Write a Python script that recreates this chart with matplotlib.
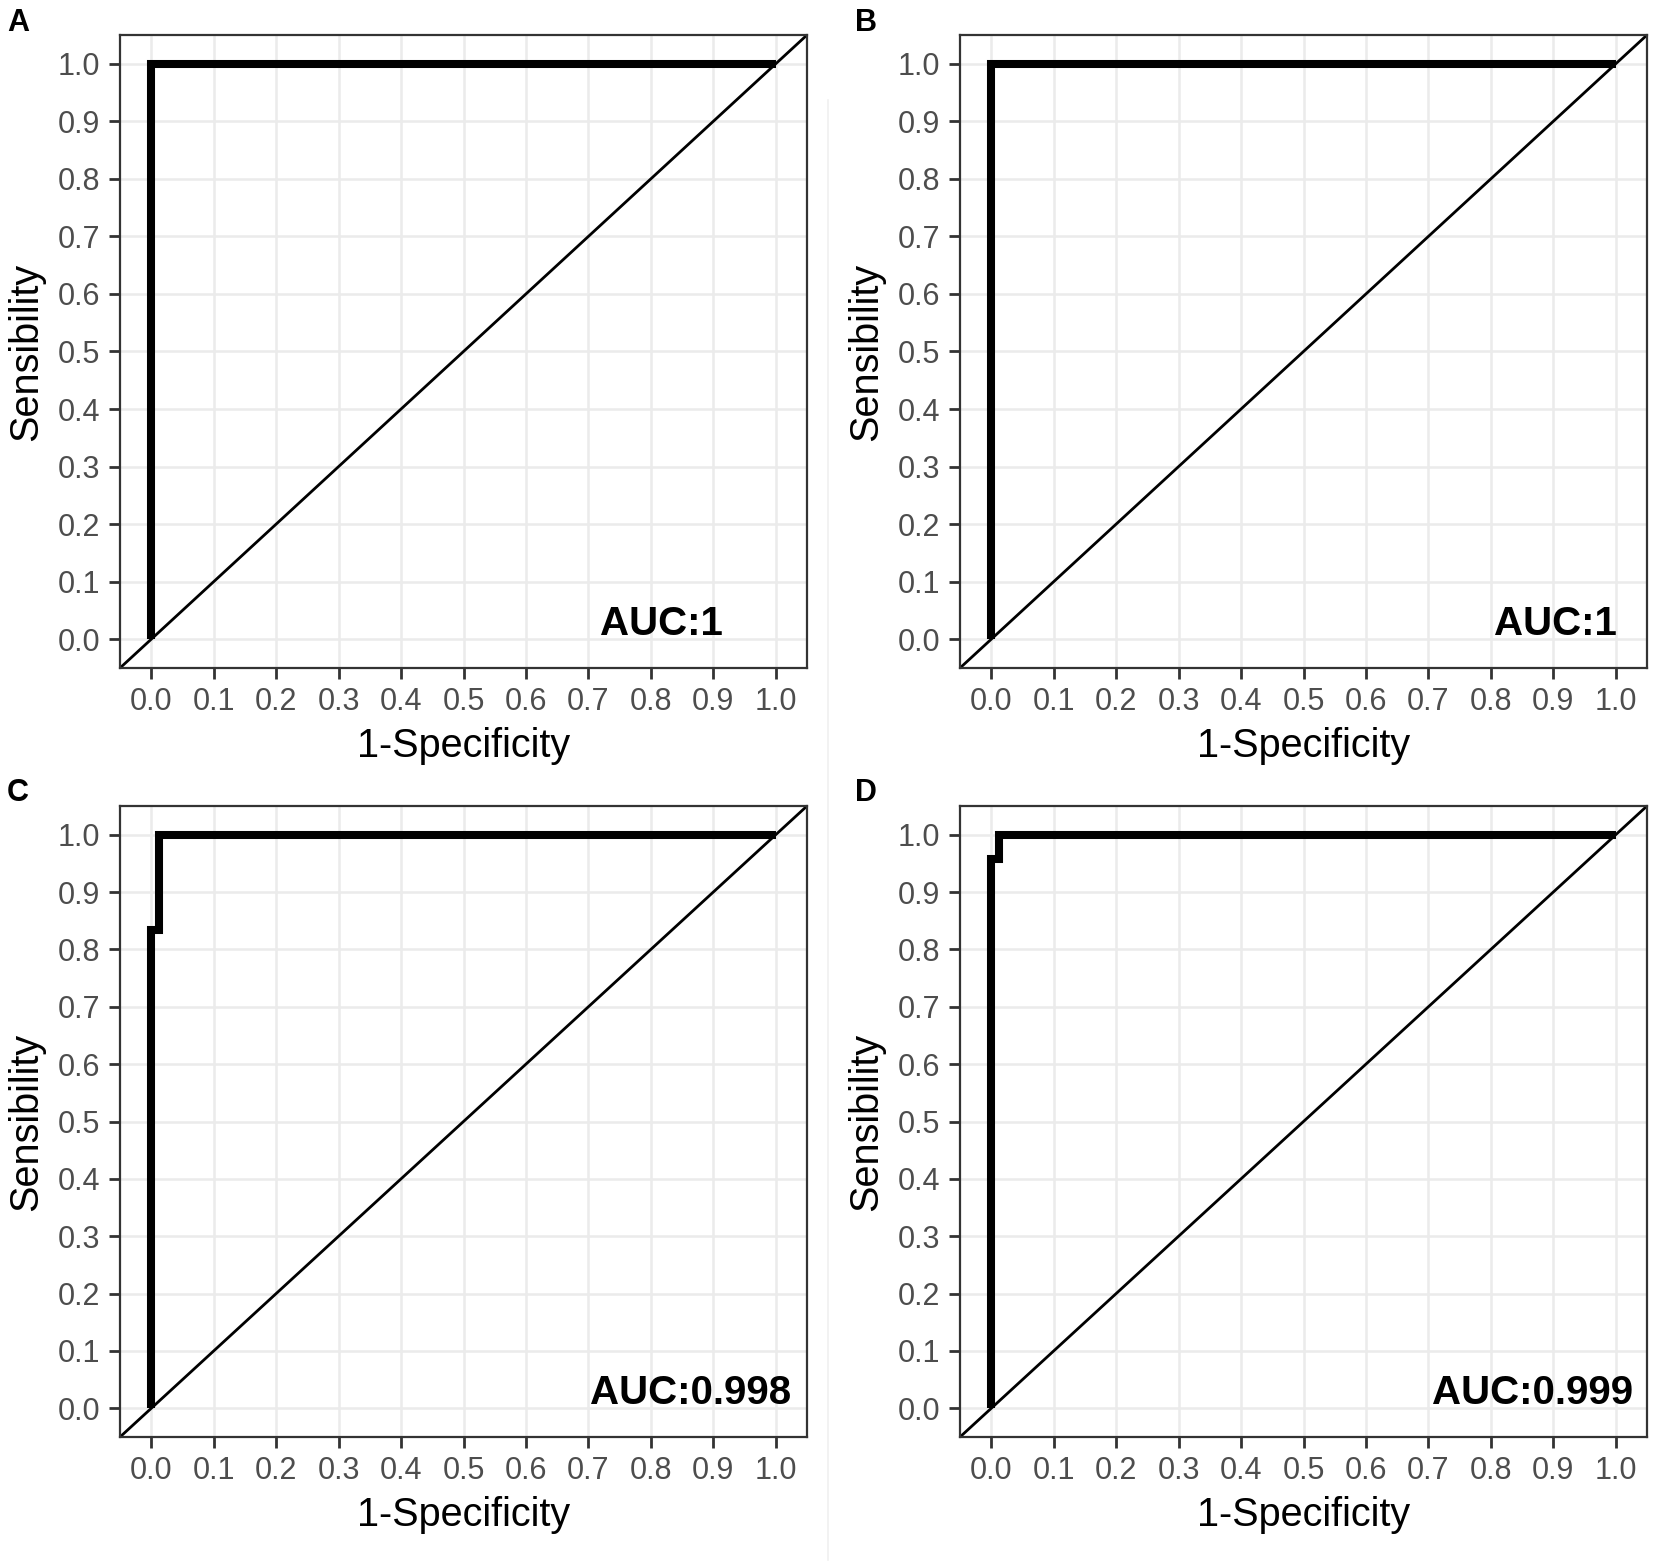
import numpy as np
import matplotlib
matplotlib.use("Agg")
import matplotlib.pyplot as plt
from matplotlib.lines import Line2D

plt.rcParams['font.family'] = ['Liberation Sans', 'DejaVu Sans']

# ROC curves
panels = ['A', 'B', 'C', 'D']
fpr = {
    'A': [0.0, 0.0, 1.0],
    'B': [0.0, 0.0, 1.0],
    'C': [0.0, 0.0, 0.013, 0.013, 1.0],
    'D': [0.0, 0.0, 0.013, 0.013, 1.0],
}
tpr = {
    'A': [0.0, 1.0, 1.0],
    'B': [0.0, 1.0, 1.0],
    'C': [0.0, 0.833, 0.833, 1.0, 1.0],
    'D': [0.0, 0.958, 0.958, 1.0, 1.0],
}
auc_text = {'A': 'AUC:1', 'B': 'AUC:1', 'C': 'AUC:0.998', 'D': 'AUC:0.999'}
auc_x = {'A': 0.817, 'B': 0.904, 'C': 0.864, 'D': 0.867}
ticks = np.round(np.arange(0, 1.01, 0.1), 1)
tick_labels = ['%.1f' % t for t in ticks]

W, H = 1655, 1568
fig = plt.figure(figsize=(W / 100, H / 100), dpi=100)

# panel boxes in pixels: left, top, right, bottom
boxes = {
    'A': (120, 35, 807, 668),
    'B': (960, 35, 1647, 668),
    'C': (120, 806, 807, 1437),
    'D': (960, 806, 1647, 1437),
}
letter_pos = {'A': (7, 8), 'B': (855, 8), 'C': (7, 778), 'D': (855, 778)}

for p in panels:
    l, t, r, b = boxes[p]
    ax = fig.add_axes([l / W, 1 - b / H, (r - l) / W, (b - t) / H])
    ax.set_xlim(-0.05, 1.05)
    ax.set_ylim(-0.05, 1.05)
    ax.set_xticks(ticks)
    ax.set_yticks(ticks)
    ax.set_xticklabels(tick_labels)
    ax.set_yticklabels(tick_labels)
    ax.grid(True, color='#EBEBEB', lw=1.8, zorder=0)
    ax.set_axisbelow(True)
    ax.tick_params(length=8, width=2, color='#333333', labelcolor='#4D4D4D',
                   labelsize=22, pad=6)
    for s in ax.spines.values():
        s.set_color('#333333')
        s.set_linewidth(1.6)

    ax.axline((0, 0), (1, 1), color='black', lw=2.0, zorder=2)
    ax.plot(fpr[p], tpr[p], color='black', lw=5.8, zorder=3,
            solid_joinstyle='miter', solid_capstyle='butt')

    ax.text(auc_x[p], 0.007, auc_text[p], ha='center', va='baseline',
            fontsize=29, fontweight='bold', color='black')

    ax.set_xlabel('1-Specificity', fontsize=28.5, color='black', labelpad=7)
    ax.set_ylabel('Sensibility', fontsize=28.5, color='black', labelpad=9)

    lx, ly = letter_pos[p]
    fig.text(lx / W, 1 - ly / H, p, ha='left', va='top', fontsize=22,
             fontweight='bold')

# faint separator between the left and right columns
fig.add_artist(Line2D([828 / W, 828 / W], [1 - 1560 / H, 1 - 100 / H],
                      color='#F0F0F0', lw=1.2))

fig.savefig('out.png', dpi=100, facecolor='white')
